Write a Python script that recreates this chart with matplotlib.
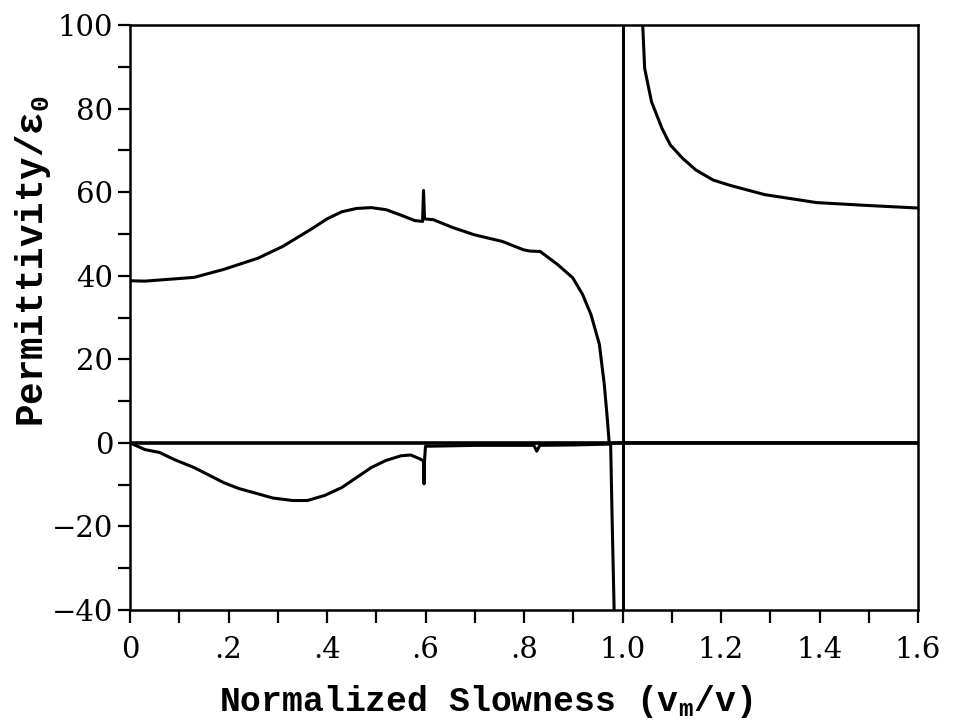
import numpy as np
import matplotlib
matplotlib.use("Agg")
import matplotlib.pyplot as plt
from matplotlib.ticker import MultipleLocator, FixedLocator

# ---- data ----
# real part, left of the pole
re_x = [0.0, 0.03, 0.13, 0.19, 0.26, 0.31, 0.37, 0.40, 0.43, 0.46, 0.49, 0.52, 0.55, 0.578,
        0.594, 0.596, 0.598, 0.616, 0.656, 0.699, 0.756, 0.799, 0.812, 0.833,
        0.869, 0.899, 0.919, 0.936, 0.953, 0.963, 0.969, 0.973, 0.976, 0.979, 0.983]
re_y = [38.8, 38.7, 39.6, 41.5, 44.2, 47.0, 51.3, 53.6, 55.3, 56.1, 56.3, 55.8, 54.5, 53.2,
        53.0, 60.4, 53.6, 53.4, 51.5, 49.8, 48.2, 46.2, 45.9, 45.8,
        42.6, 39.5, 35.5, 30.7, 23.6, 14.0, 6.0, 0.0, -0.7, -18.6, -40.0]

# real part, right of the pole
re2_x = [1.041, 1.045, 1.059, 1.080, 1.097, 1.122, 1.149, 1.184, 1.219,
         1.289, 1.394, 1.499, 1.600]
re2_y = [100.0, 89.6, 81.6, 75.3, 71.3, 68.1, 65.3, 62.9, 61.6,
         59.4, 57.5, 56.8, 56.2]

# imaginary part
im_x = [0.0, 0.03, 0.06, 0.09, 0.13, 0.16, 0.19, 0.22, 0.26, 0.29, 0.33, 0.36, 0.395,
        0.43, 0.46, 0.49, 0.52, 0.55, 0.57,
        0.588, 0.596, 0.597, 0.598, 0.600, 0.61, 0.70, 0.80, 0.82, 0.826, 0.832,
        0.90, 0.975, 0.985, 1.6]
im_y = [0.0, -1.6, -2.3, -4.0, -5.9, -7.7, -9.5, -10.9, -12.2, -13.2, -13.8, -13.8, -12.6,
        -10.7, -8.3, -5.9, -4.2, -3.1, -2.9,
        -3.8, -4.3, -9.8, -4.3, -0.8, -0.8, -0.6, -0.6, -0.6, -2.0, -0.6,
        -0.5, -0.3, 0.0, 0.0]

POLE_X = 1.0

x_ticks = [0, 0.2, 0.4, 0.6, 0.8, 1.0, 1.2, 1.4, 1.6]
x_ticklabels = ['0', '.2', '.4', '.6', '.8', '1.0', '1.2', '1.4', '1.6']
y_ticks = [-40, -20, 0, 20, 40, 60, 80, 100]

# ---- plot ----
plt.rcParams['font.family'] = 'DejaVu Serif'
plt.rcParams['font.size'] = 21
plt.rcParams['mathtext.fontset'] = 'custom'
plt.rcParams['mathtext.rm'] = 'Liberation Mono:bold'
plt.rcParams['mathtext.it'] = 'Liberation Mono:bold'

fig = plt.figure(figsize=(9.59, 7.28), dpi=100)
ax = fig.add_axes([130/959, 118/728, 788/959, 585/728])

lw = 2.2
ax.axhline(0, color='black', lw=2.6)
ax.axvline(POLE_X, color='black', lw=lw)
ax.plot(re_x, re_y, color='black', lw=lw)
ax.plot(re2_x, re2_y, color='black', lw=lw)
ax.plot(im_x, im_y, color='black', lw=lw)

ax.set_xlim(0, 1.6)
ax.set_ylim(-40, 100)
ax.xaxis.set_major_locator(FixedLocator(x_ticks))
ax.set_xticklabels(x_ticklabels)
ax.xaxis.set_minor_locator(MultipleLocator(0.1))
ax.yaxis.set_major_locator(FixedLocator(y_ticks))
ax.yaxis.set_minor_locator(MultipleLocator(10))

ax.tick_params(which='both', direction='out', length=9, width=1.6,
               top=False, right=False)
ax.tick_params(axis='x', which='major', pad=10)
ax.tick_params(axis='y', which='major', pad=3)
for s in ax.spines.values():
    s.set_linewidth(1.8)

ax.set_xlabel('Normalized Slowness (v$_\\mathrm{m}$/v)',
              family='Liberation Mono', weight='bold', size=25)
ax.set_ylabel('Permittivity/ε$_0$',
              family='Liberation Mono', weight='bold', size=27)
ax.xaxis.set_label_coords(0.452, -0.124)
ax.yaxis.set_label_coords(-0.098, 0.597)

fig.savefig('out.png', dpi=100)
